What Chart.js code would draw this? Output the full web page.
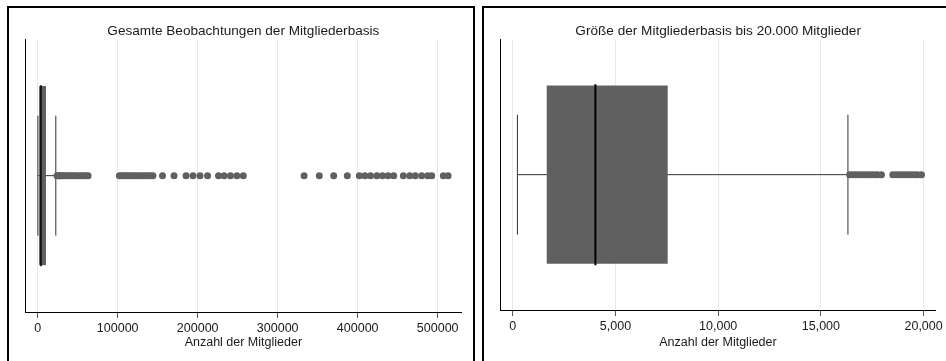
<!DOCTYPE html>
<html><head><meta charset="utf-8">
<script src="https://cdn.jsdelivr.net/npm/chart.js@4/dist/chart.umd.min.js"></script>
<style>
html,body{margin:0;padding:0;background:#fff;width:946px;height:361px;overflow:hidden;position:relative}
.panel{position:absolute;top:6px;height:362px;border:2px solid #000;box-sizing:border-box}
#pL{left:7px;width:468px}
#pR{left:482px;width:470px}
canvas{position:absolute}
#cL{left:9px;top:8px}
#cR{left:484px;top:8px}
</style></head><body>
<div class="panel" id="pL"></div><div class="panel" id="pR"></div>
<canvas id="cL" width="464" height="353"></canvas>
<canvas id="cR" width="462" height="353"></canvas>
<script>
const categories = ['Mitglieder'];
const titleAll = 'Gesamte Beobachtungen der Mitgliederbasis';
const titleSub = 'Größe der Mitgliederbasis bis 20.000 Mitglieder';
const axisTitle = 'Anzahl der Mitglieder';

// [unterer Whisker, Q1, Median, Q3, oberer Whisker]
const boxAll = [230, 1700, 4000, 10300, 22600];
const outliersAll = [24100, 25500, 27000, 28500, 30000, 32000, 34000, 36000, 38500, 41000, 43500, 46000, 49000, 52000, 55000, 58000, 60500, 63000,
  102000, 104500, 107000, 109500, 112000, 114500, 117000, 120000, 123000, 126000, 129000, 132000, 135000, 138000, 141000, 144000,
  156000, 170400, 185400, 194100, 202900, 212300, 226000, 233000, 241000, 249000, 257000,
  333000, 352000, 370000, 387000, 402000, 409000, 416000, 424000, 431000, 438000, 445000, 457000, 465000, 472000, 480000, 487500, 492500, 507000, 513000];

const boxSub = [228, 1655, 4024, 7543, 16316];
const outliersSub = [16400, 16550, 16700, 16850, 17000, 17150, 17300, 17450, 17600, 17750, 17950,
  18500, 18650, 18800, 18950, 19100, 19250, 19400, 19550, 19700, 19900];

const ticksAll = [0, 100000, 200000, 300000, 400000, 500000];
const ticksSub = [0, 5000, 10000, 15000, 20000];
const rangeAll = [-15900, 530000];
const rangeSub = [-620, 20600];

const FONT = "'Liberation Sans', Arial, sans-serif";
const TXT = '#1a1a1a';

function makeChart(id, box, outliers, ticks, range, title, fmt, padRight, tickPad, titlePadTop, medianWidth) {
  const cat = categories[0];
  return new Chart(document.getElementById(id), {
    type: 'bar',
    data: {
      labels: categories,
      datasets: [
        { type: 'line', data: [{x: box[0], y: cat}, {x: box[4], y: cat}], borderColor: '#333', borderWidth: 1, pointRadius: 0, order: 4 },
        { type: 'scatter', data: [{x: box[0], y: cat}, {x: box[4], y: cat}], pointStyle: 'line', pointRotation: 90, pointRadius: 60,
          pointBorderColor: '#333', pointBorderWidth: 1, order: 3 },
        { type: 'bar', data: [[box[1], box[3]]], backgroundColor: '#606060', borderWidth: 0, barPercentage: 0.658, categoryPercentage: 1, order: 2 },
        { type: 'scatter', data: [{x: box[2], y: cat}], pointStyle: 'line', pointRotation: 90, pointRadius: 90.5,
          pointBorderColor: '#000', pointBorderWidth: medianWidth, order: 1 },
        { type: 'scatter', data: outliers.map(v => ({x: v, y: cat})), pointStyle: 'circle', pointRadius: 3.5,
          pointBackgroundColor: '#606060', pointBorderWidth: 0, order: 0 }
      ]
    },
    options: {
      indexAxis: 'y',
      responsive: false,
      animation: false,
      events: [],
      layout: { autoPadding: false, padding: { left: 16, right: padRight, top: 0, bottom: 11 } },
      plugins: {
        legend: { display: false },
        tooltip: { enabled: false },
        title: { display: true, text: title, color: TXT, font: { family: FONT, size: 13.6, weight: 'normal' }, padding: { top: 15, bottom: 0 } }
      },
      scales: {
        y: {
          type: 'category', offset: true,
          grid: { display: false, drawTicks: false },
          ticks: { display: false },
          border: { display: true, color: '#000', width: 1 }
        },
        x: {
          type: 'linear', min: range[0], max: range[1],
          afterBuildTicks: (s) => { s.ticks = ticks.map(v => ({ value: v })); },
          grid: { color: '#e9e9e9', lineWidth: 1, drawTicks: true, tickLength: 6, tickColor: '#555' },
          border: { display: true, color: '#000', width: 1 },
          ticks: { color: TXT, font: { family: FONT, size: 12.5 }, padding: tickPad, maxRotation: 0, autoSkip: false, callback: (v) => fmt(v) },
          title: { display: true, text: axisTitle, color: TXT, font: { family: FONT, size: 12.5 }, padding: { top: titlePadTop, bottom: 0 } }
        }
      }
    }
  });
}

makeChart('cL', boxAll, outliersAll, ticksAll, rangeAll, titleAll, (v) => String(v), 11.3, 3, -4, 1.5);
makeChart('cR', boxSub, outliersSub, ticksSub, rangeSub, titleSub, (v) => Number(v).toLocaleString('en-US'), 9.7, 3, -2, 2);
</script>
</body></html>
